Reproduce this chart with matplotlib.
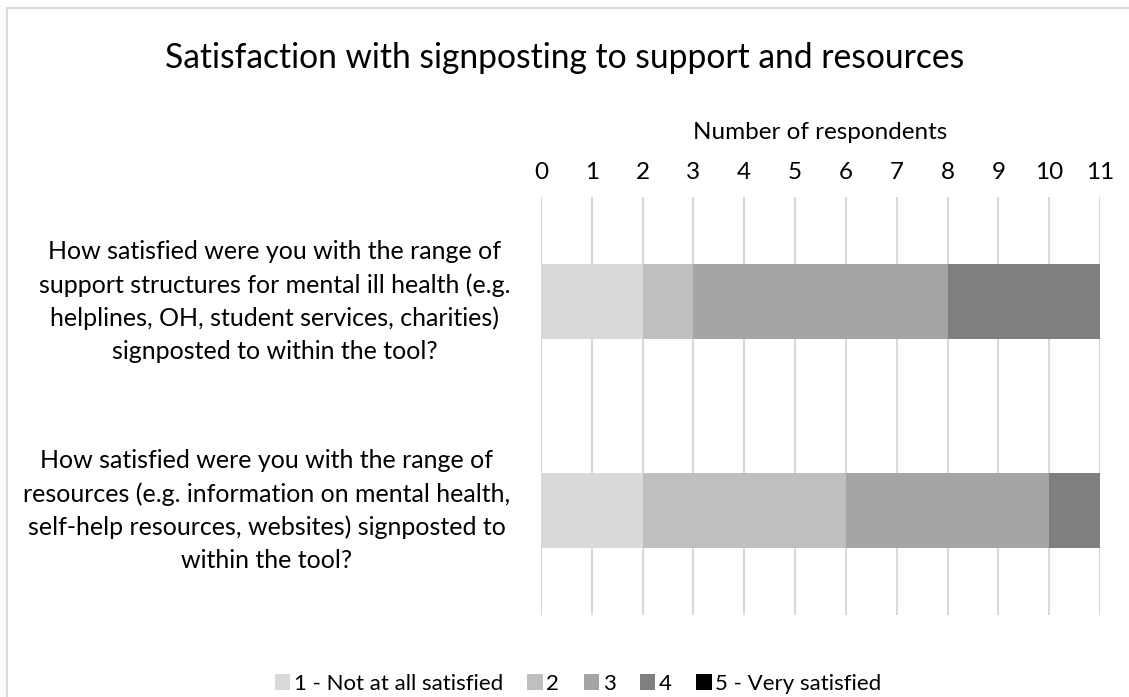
import matplotlib
matplotlib.use("Agg")
import matplotlib.pyplot as plt
from matplotlib.patches import Patch, Rectangle

plt.rcParams['font.family'] = ['Lato', 'DejaVu Sans']

# questions (top to bottom)
questions = [
    "How satisfied were you with the range of\nsupport structures for mental ill health (e.g.\nhelplines, OH, student services, charities)\nsignposted to within the tool?",
    "How satisfied were you with the range of\nresources (e.g. information on mental health,\nself-help resources, websites) signposted to\nwithin the tool?",
]
levels = ["1 - Not at all satisfied", "2", "3", "4", "5 - Very satisfied"]
# respondents per level, one list per question
counts = [
    [2, 1, 5, 3, 0],
    [2, 4, 4, 1, 0],
]
colors = ["#d9d9d9", "#bfbfbf", "#a5a5a5", "#7f7f7f", "#000000"]
x_ticks = list(range(0, 12))

fig = plt.figure(figsize=(11.29, 6.97), dpi=100)

# chart area border
fig.patches.append(Rectangle((7 / 1129, -0.01), 1.02, 1 - 8 / 697 + 0.01,
                             transform=fig.transFigure, fill=False,
                             edgecolor="#d9d9d9", linewidth=1.5))

ax = fig.add_axes([541 / 1129, 82 / 697, 559 / 1129, 418 / 697])

ypos = list(range(len(questions)))
for q, row in enumerate(counts):
    left = 0
    for lvl, val in enumerate(row):
        ax.barh(q, val, left=left, height=0.355, color=colors[lvl],
                zorder=3)
        left += val

ax.set_xlim(0, 11)
ax.set_ylim(1.5, -0.5)
ax.set_xticks(x_ticks)
ax.xaxis.tick_top()
ax.xaxis.set_label_position("top")
ax.set_xlabel("Number of respondents", fontsize=17.5, labelpad=16.5)
ax.tick_params(axis="x", length=0, labelsize=17.5, pad=9.8)
ax.set_yticks(ypos)
ax.set_yticklabels(questions, fontsize=18, multialignment="center",
                   linespacing=1.5, va="center")
ax.tick_params(axis="y", length=0, pad=22)
ax.grid(axis="x", color="#d9d9d9", linewidth=1.5, zorder=0)
for s in ax.spines.values():
    s.set_visible(False)

fig.text(0.5, 1 - 58 / 697, "Satisfaction with signposting to support and resources",
         ha="center", va="center", fontsize=24.2)

handles = [Patch(facecolor=c, edgecolor="none") for c in colors]
fig.legend(handles, levels, loc="center", bbox_to_anchor=(0.512, 1 - 684 / 697),
           ncol=5, frameon=False, fontsize=16, handlelength=0.7,
           handleheight=0.7, handletextpad=0.15, columnspacing=1.1)

fig.savefig("out.png", dpi=100)
